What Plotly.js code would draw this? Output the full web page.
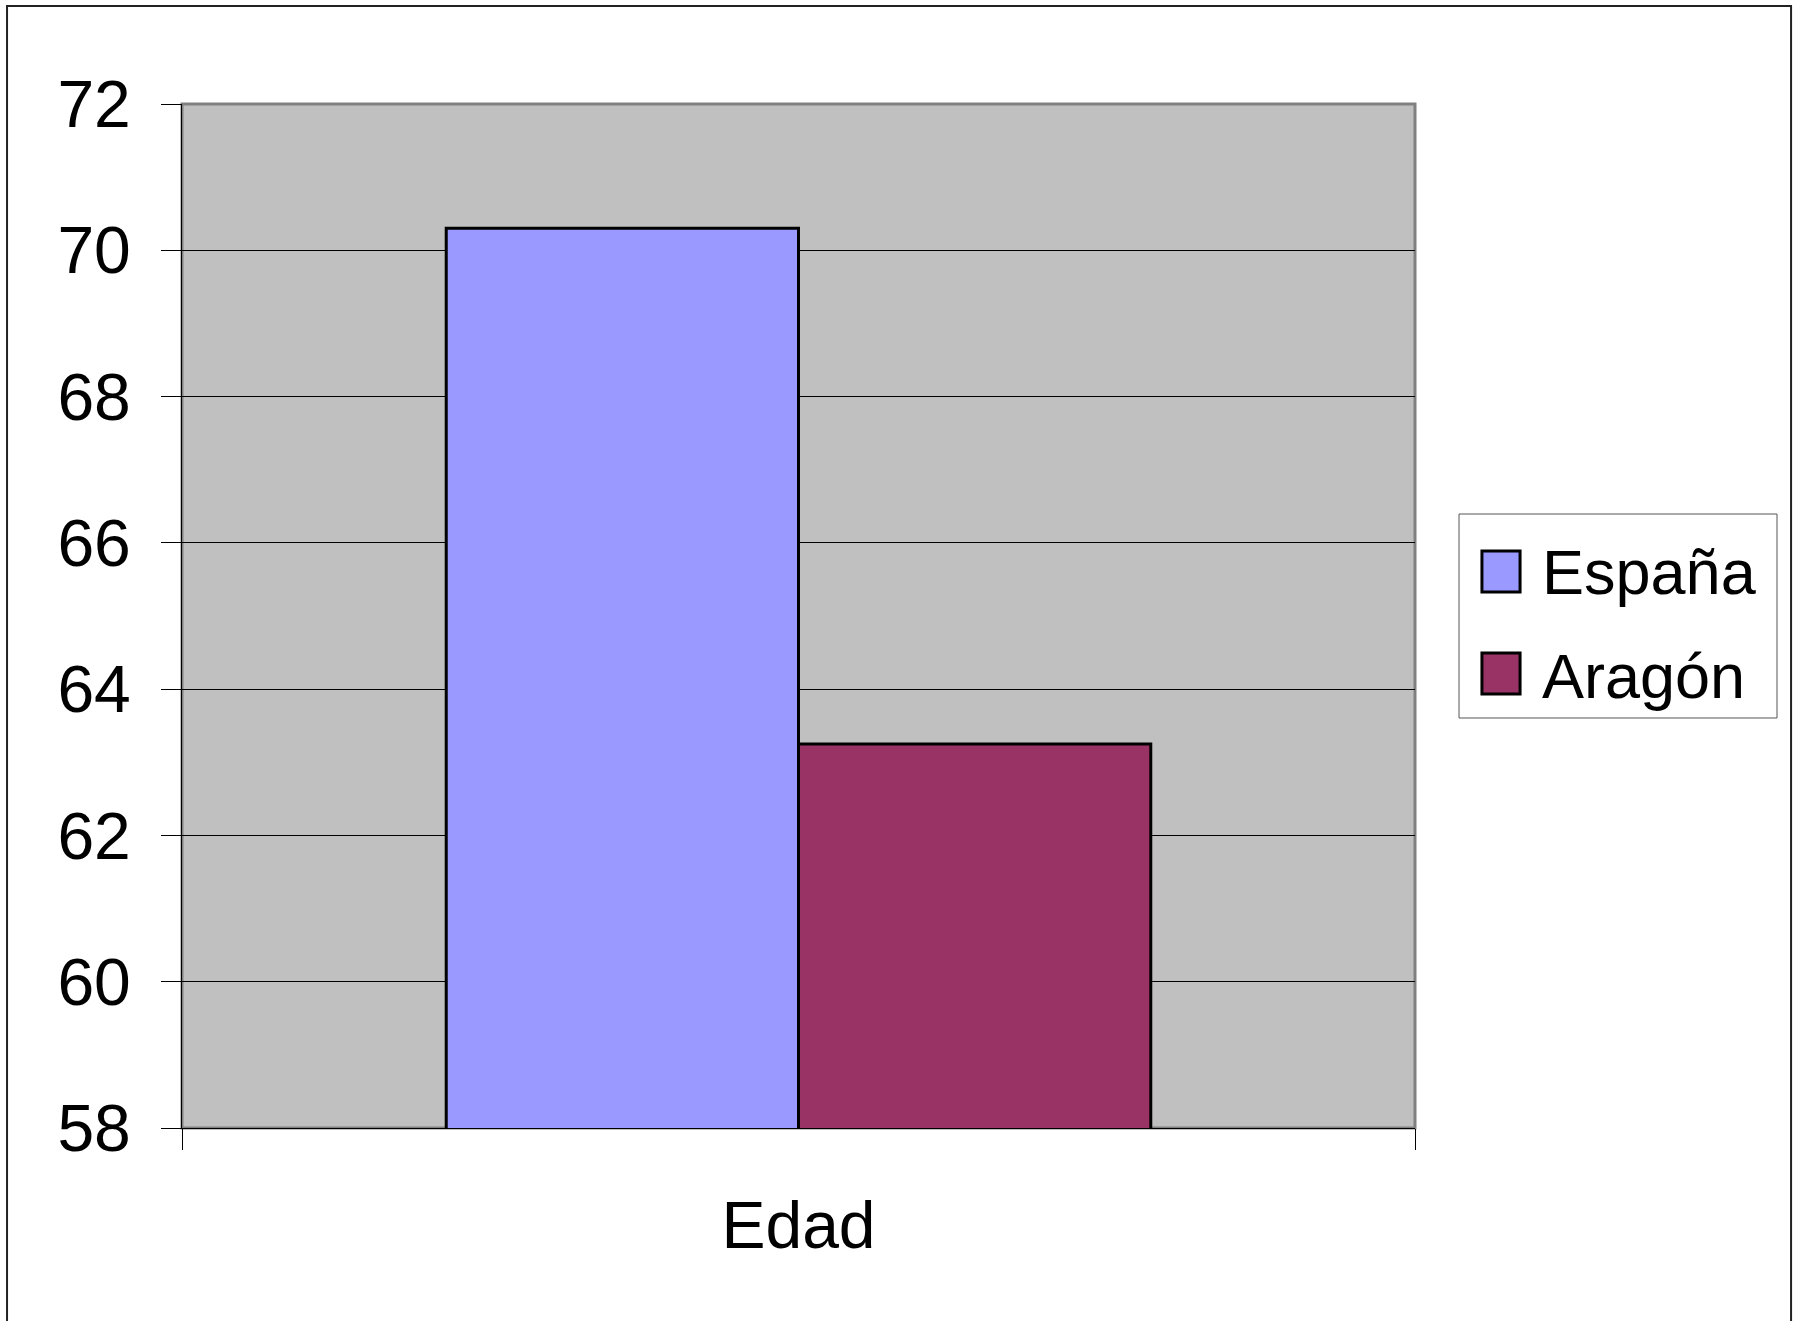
<!DOCTYPE html>
<html>
<head>
<meta charset="utf-8">
<script src="https://cdn.plot.ly/plotly-3.0.1.min.js"></script>
<style>
html,body{margin:0;padding:0;background:#fff;}
#chart{width:1793px;height:1321px;}
</style>
</head>
<body>
<div id="chart"></div>
<script>
// ---- data ----
const categories = ['Edad'];
const seriesNames = ['España', 'Aragón'];
const espana = [70.3];
const aragon = [63.25];
const seriesColors = ['#9999FF', '#993366'];
const yTickVals = [58, 60, 62, 64, 66, 68, 70, 72];

const FONT = 'Liberation Sans, Arial, sans-serif';

const traces = [
  {type: 'bar', name: seriesNames[0], x: categories, y: espana,
   marker: {color: seriesColors[0], line: {color: '#000', width: 3}}, showlegend: false},
  {type: 'bar', name: seriesNames[1], x: categories, y: aragon,
   marker: {color: seriesColors[1], line: {color: '#000', width: 3}}, showlegend: false}
];

// custom legend (box, swatches, labels)
const legendSwatchY = [[0.5234, 0.5635], [0.4238, 0.4639]];
const legendTextY = [0.543, 0.4414];
const shapes = [
  // outer chart frame
  {type: 'rect', xref: 'paper', yref: 'paper', x0: -0.1419, x1: 1.305, y0: -0.25, y1: 1.0957,
   line: {color: '#222', width: 2}, fillcolor: 'rgba(0,0,0,0)', layer: 'above'},
  // plot area border
  {type: 'rect', xref: 'paper', yref: 'paper', x0: 0, x1: 1, y0: 0, y1: 1,
   line: {color: '#808080', width: 3}, fillcolor: 'rgba(0,0,0,0)', layer: 'below'},
  // legend box
  {type: 'rect', xref: 'paper', yref: 'paper', x0: 1.0357, x1: 1.2936, y0: 0.4004, y1: 0.5996,
   line: {color: '#555', width: 1}, fillcolor: '#fff', layer: 'above'}
];
const annotations = [];
seriesNames.forEach((n, i) => {
  shapes.push({type: 'rect', xref: 'paper', yref: 'paper', x0: 1.0543, x1: 1.0852,
    y0: legendSwatchY[i][0], y1: legendSwatchY[i][1],
    line: {color: '#000', width: 3}, fillcolor: seriesColors[i], layer: 'above'});
  annotations.push({xref: 'paper', yref: 'paper', x: 1.1010, y: legendTextY[i],
    xanchor: 'left', yanchor: 'middle', showarrow: false, text: n,
    font: {family: FONT, size: 63, color: '#000'}});
});

const layout = {
  width: 1793, height: 1321,
  margin: {l: 182, r: 378, t: 104, b: 193, pad: 0},
  paper_bgcolor: '#fff',
  plot_bgcolor: '#C0C0C0',
  barmode: 'group',
  bargap: 0.4286,
  bargroupgap: 0,
  showlegend: false,
  font: {family: FONT, color: '#000'},
  xaxis: {
    type: 'category',
    showgrid: false,
    showline: true, linecolor: '#000', linewidth: 1,
    ticks: 'outside', tickson: 'boundaries', ticklen: 21, tickcolor: '#000', tickwidth: 1,
    ticklabelstandoff: 40,
    tickfont: {family: FONT, size: 66, color: '#000'},
    zeroline: false, fixedrange: true
  },
  yaxis: {
    range: [58, 72],
    tickvals: yTickVals,
    ticktext: yTickVals.map(String),
    showgrid: true, gridcolor: '#000', gridwidth: 1,
    showline: true, linecolor: '#000', linewidth: 1,
    ticks: 'outside', ticklen: 20, tickcolor: '#000', tickwidth: 1,
    ticklabelstandoff: 17,
    tickfont: {family: FONT, size: 66, color: '#000'},
    zeroline: false, fixedrange: true
  },
  shapes: shapes,
  annotations: annotations
};

Plotly.newPlot('chart', traces, layout, {displayModeBar: false, staticPlot: true});
</script>
</body>
</html>
